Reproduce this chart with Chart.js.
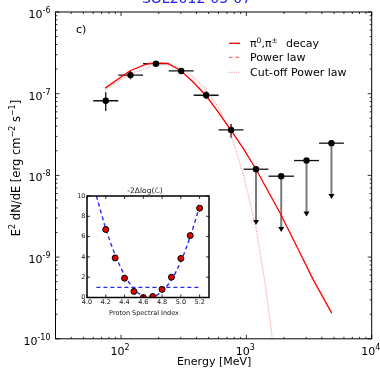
<!DOCTYPE html>
<html><head><meta charset="utf-8">
<script src="https://cdn.jsdelivr.net/npm/chart.js@4/dist/chart.umd.min.js"></script>
<style>
html,body{margin:0;padding:0;background:#fff;overflow:hidden}
#wrap{position:relative;width:380px;height:368px}
#main{position:absolute;left:0;top:0}
#inset{position:absolute;left:66px;top:178px}
</style></head><body>
<div id="wrap">
<canvas id="main" width="380" height="368"></canvas>
<canvas id="inset" width="150" height="142"></canvas>
</div>
<script>
// ---------- data ----------
const titleText = 'SOL2012-03-07';
const panelLabel = 'c)';
const binCentersMeV = [75.5, 119, 190, 302, 478, 755, 1194, 1897, 3020, 4775];
const binLowMeV     = [60, 95, 150, 240, 380, 600, 950, 1500, 2400, 3800];
const binHighMeV    = [95, 150, 240, 380, 600, 950, 1500, 2400, 3800, 6000];
const fluxValues = [8.2e-8, 1.69e-7, 2.33e-7, 1.90e-7, 9.57e-8, 3.6e-8];
const fluxLow    = [6.15e-8, 1.50e-7, 2.20e-7, 1.78e-7, 8.6e-8, 2.88e-8];
const fluxHigh   = [1.04e-7, 1.90e-7, 2.46e-7, 2.02e-7, 1.07e-7, 4.27e-8];
const upperLimitValues = [1.19e-8, 9.78e-9, 1.52e-8, 2.48e-8];
const upperLimitArrowFactor = 0.21;
const pionEnergy = [74.7, 118, 161, 187, 237, 300, 376, 474, 594, 751, 949, 1194, 1857, 2524, 3422, 4797];
const pionFlux   = [1.17e-7, 1.91e-7, 2.31e-7, 2.38e-7, 2.35e-7, 1.91e-7, 1.39e-7, 9.57e-8, 5.98e-8, 3.6e-8, 2.11e-8, 1.19e-8, 3.47e-9, 1.35e-9, 5.27e-10, 2.06e-10];
const powerLawEnergy = [];
const powerLawFlux = [];
const cutoffEnergy = [74.7, 118, 187, 237, 300, 376, 474, 594, 751, 949, 1194, 1409, 1611, 1700];
const cutoffFlux   = [1.11e-7, 1.75e-7, 2.25e-7, 2.25e-7, 2.04e-7, 1.60e-7, 1.14e-7, 6.9e-8, 3.22e-8, 1.01e-8, 2.28e-9, 4.84e-10, 1.0e-10, 4e-11];
const legendLabels = ['decay', 'Power law', 'Cut-off Power law'];
const xTickValues = [1e2, 1e3, 1e4];
const xTickExponents = ['2', '3', '4'];
const yTickValues = [1e-6, 1e-7, 1e-8, 1e-9, 1e-10];
const yTickExponents = ['-6', '-7', '-8', '-9', '-10'];

const insetIndex = [4.2, 4.3, 4.4, 4.5, 4.6, 4.7, 4.8, 4.9, 5.0, 5.1, 5.2];
const insetDeltaLogL = [6.7, 3.9, 1.9, 0.6, 0.0, 0.1, 0.8, 2.0, 3.85, 6.1, 8.8];
const fitIndex = [4.1, 4.2, 4.3, 4.4, 4.5, 4.6, 4.66, 4.7, 4.8, 4.9, 5.0, 5.1, 5.2];
const fitDeltaLogL = [10.0, 6.8, 4.2, 2.2, 0.85, 0.13, 0.0, 0.05, 0.6, 1.75, 3.55, 6.0, 9.0];
const thresholdIndex = [4.1, 5.2];
const thresholdLevel = [1, 1];
const insetXTicks = [4.0, 4.2, 4.4, 4.6, 4.8, 5.0, 5.2];
const insetXTickLabels = ['4.0', '4.2', '4.4', '4.6', '4.8', '5.0', '5.2'];
const insetYTicks = [0, 2, 4, 6, 8, 10];
const insetYTickLabels = ['0', '2', '4', '6', '8', '10'];

// ---------- helpers ----------
const FONT = '"DejaVu Sans", sans-serif';
function pts(xs, ys) { return xs.map((x, i) => ({x: x, y: ys[i]})); }
function supText(ctx, parts, x, y, align) {
  // parts: [text, size, rise]
  let w = 0;
  parts.forEach(p => { ctx.font = p[1] + 'px ' + FONT; w += ctx.measureText(p[0]).width; });
  let cx = align === 'right' ? x - w : (align === 'center' ? x - w / 2 : x);
  ctx.textAlign = 'left'; ctx.textBaseline = 'alphabetic';
  parts.forEach(p => { ctx.font = p[1] + 'px ' + FONT; ctx.fillText(p[0], cx, y - p[2]); cx += ctx.measureText(p[0]).width; });
}

// ---------- main chart ----------
const mainPlugin = {
  id: 'mainDeco',
  beforeDatasetsDraw(chart) {
    const ctx = chart.ctx, xs = chart.scales.x, ys = chart.scales.y;
    ctx.save();
    // error bars of detected points
    ctx.strokeStyle = '#111'; ctx.lineWidth = 1.3;
    fluxValues.forEach((v, i) => {
      const px = xs.getPixelForValue(binCentersMeV[i]), py = ys.getPixelForValue(v);
      ctx.beginPath();
      ctx.moveTo(xs.getPixelForValue(binLowMeV[i]), py); ctx.lineTo(xs.getPixelForValue(binHighMeV[i]), py);
      ctx.moveTo(px, ys.getPixelForValue(fluxLow[i])); ctx.lineTo(px, ys.getPixelForValue(fluxHigh[i]));
      ctx.stroke();
    });
    // upper limits
    upperLimitValues.forEach((v, j) => {
      const i = fluxValues.length + j;
      const px = xs.getPixelForValue(binCentersMeV[i]), py = ys.getPixelForValue(v);
      const tip = ys.getPixelForValue(v * upperLimitArrowFactor);
      ctx.strokeStyle = '#111'; ctx.lineWidth = 1.3;
      ctx.beginPath();
      ctx.moveTo(xs.getPixelForValue(binLowMeV[i]), py); ctx.lineTo(xs.getPixelForValue(binHighMeV[i]), py);
      ctx.stroke();
      ctx.strokeStyle = '#7a7a7a'; ctx.lineWidth = 2;
      ctx.beginPath(); ctx.moveTo(px, py); ctx.lineTo(px, tip - 3); ctx.stroke();
      ctx.fillStyle = '#000';
      ctx.beginPath(); ctx.moveTo(px - 3, tip - 4.5); ctx.lineTo(px + 3, tip - 4.5); ctx.lineTo(px, tip + 0.5); ctx.closePath(); ctx.fill();
    });
    ctx.restore();
  },
  afterDraw(chart) {
    const ctx = chart.ctx, xs = chart.scales.x, ys = chart.scales.y, a = chart.chartArea;
    ctx.save();
    // frame
    ctx.strokeStyle = '#000'; ctx.lineWidth = 1;
    ctx.strokeRect(a.left, a.top, a.right - a.left, a.bottom - a.top);
    // ticks
    ctx.lineWidth = 0.8;
    ctx.beginPath();
    for (let d = 1; d <= 4; d++) {
      for (let m = 1; m <= 9; m++) {
        const v = m * Math.pow(10, d);
        if (v < xs.min || v > xs.max) continue;
        const px = xs.getPixelForValue(v), len = m === 1 ? 4 : 2;
        ctx.moveTo(px, a.bottom); ctx.lineTo(px, a.bottom - len);
        ctx.moveTo(px, a.top); ctx.lineTo(px, a.top + len);
      }
    }
    for (let d = -10; d <= -6; d++) {
      for (let m = 1; m <= 9; m++) {
        const v = m * Math.pow(10, d);
        if (v < ys.min * 0.999 || v > ys.max * 1.001) continue;
        const py = ys.getPixelForValue(v), len = m === 1 ? 4 : 2;
        ctx.moveTo(a.left, py); ctx.lineTo(a.left + len, py);
        ctx.moveTo(a.right, py); ctx.lineTo(a.right - len, py);
      }
    }
    ctx.stroke();
    // tick labels
    ctx.fillStyle = '#000';
    yTickValues.forEach((v, i) => {
      const py = ys.getPixelForValue(v);
      supText(ctx, [['10', 11, 0], [yTickExponents[i], 8, 5]], a.left - 5, py + 6, 'right');
    });
    xTickValues.forEach((v, i) => {
      const px = xs.getPixelForValue(v);
      supText(ctx, [['10', 11, 0], [xTickExponents[i], 8, 5]], px - 1, a.bottom + 16.5, 'center');
    });
    // axis titles
    ctx.font = '11px ' + FONT; ctx.textAlign = 'center';
    ctx.fillText('Energy [MeV]', (a.left + a.right) / 2 + 0.5, 364.5);
    ctx.save();
    ctx.translate(19.5, 168); ctx.rotate(-Math.PI / 2);
    supText(ctx, [['E', 11.5, 0], ['2', 8, 5], [' dN/dE [erg cm', 11.5, 0], ['\u22122', 8, 5], [' s', 11.5, 0], ['\u22121', 8, 5], [']', 11.5, 0]], 0, 0, 'center');
    ctx.restore();
    // title (cut off at top)
    ctx.fillStyle = '#1f1fe6'; ctx.font = '14px ' + FONT; ctx.textAlign = 'center';
    ctx.fillText(titleText, 196.5, 2.8);
    // panel label
    ctx.fillStyle = '#000'; ctx.font = '11px ' + FONT; ctx.textAlign = 'left';
    ctx.fillText(panelLabel, 76, 33);
    // legend
    const lx0 = 229, lx1 = 240, rows = [43.3, 57.3, 72.3];
    ctx.lineWidth = 1.3; ctx.strokeStyle = '#ff0000'; ctx.setLineDash([]);
    ctx.beginPath(); ctx.moveTo(lx0, rows[0]); ctx.lineTo(lx1, rows[0]); ctx.stroke();
    ctx.strokeStyle = 'rgba(255,80,80,0.85)'; ctx.setLineDash([3.5, 3]);
    ctx.beginPath(); ctx.moveTo(lx0, rows[1]); ctx.lineTo(lx1, rows[1]); ctx.stroke();
    ctx.strokeStyle = 'rgba(255,110,110,0.7)'; ctx.setLineDash([1, 1.3]);
    ctx.beginPath(); ctx.moveTo(lx0, rows[2]); ctx.lineTo(lx1, rows[2]); ctx.stroke();
    ctx.setLineDash([]);
    ctx.fillStyle = '#000';
    supText(ctx, [['\u03c0', 11, 0], ['0', 7.5, 4.5], [',', 11, 0], ['\u03c0', 11, 0], ['\u00b1', 7.5, 4.5]], 250, rows[0] + 4, 'left');
    ctx.font = '11px ' + FONT; ctx.textAlign = 'left';
    ctx.fillText(legendLabels[0], 286, rows[0] + 4);
    ctx.fillText(legendLabels[1], 250, rows[1] + 4);
    ctx.fillText(legendLabels[2], 250, rows[2] + 4);
    ctx.restore();
  }
};

new Chart(document.getElementById('main'), {
  type: 'scatter',
  data: { datasets: [
    { label: 'data', data: pts(binCentersMeV.slice(0, fluxValues.length), fluxValues), pointRadius: 3.2, pointBackgroundColor: '#000', pointBorderColor: '#000', pointBorderWidth: 0, showLine: false, order: 0 },
    { label: 'upper limits', data: pts(binCentersMeV.slice(fluxValues.length), upperLimitValues), pointRadius: 3.2, pointBackgroundColor: '#000', pointBorderColor: '#000', pointBorderWidth: 0, showLine: false, order: 1 },
    { label: 'pi decay', data: pts(pionEnergy, pionFlux), showLine: true, borderColor: '#ff0000', borderWidth: 1.3, pointRadius: 0, tension: 0, order: 3 },
    { label: 'Power law', data: pts(powerLawEnergy, powerLawFlux), showLine: true, borderColor: 'rgba(255,80,80,0.85)', borderDash: [3.5, 3], borderWidth: 1.3, pointRadius: 0, order: 4 },
    { label: 'Cut-off Power law', data: pts(cutoffEnergy, cutoffFlux), showLine: true, borderColor: 'rgba(255,110,110,0.75)', borderDash: [1, 1.3], borderWidth: 1.2, pointRadius: 0, tension: 0, order: 5 }
  ]},
  options: {
    responsive: false, animation: false, events: [],
    layout: { padding: { left: 55.5, top: 12, right: 8.3, bottom: 29.2 } },
    scales: {
      x: { type: 'logarithmic', min: 30, max: 1e4, display: false },
      y: { type: 'logarithmic', min: 1e-10, max: 1e-6, display: false }
    },
    plugins: { legend: { display: false }, tooltip: { enabled: false }, title: { display: false } }
  },
  plugins: [mainPlugin]
});

// ---------- inset chart ----------
const insetPlugin = {
  id: 'insetDeco',
  beforeDraw(chart) {
    const ctx = chart.ctx, a = chart.chartArea;
    ctx.save(); ctx.fillStyle = '#fff';
    ctx.fillRect(a.left, a.top, a.right - a.left, a.bottom - a.top);
    ctx.restore();
  },
  afterDraw(chart) {
    const ctx = chart.ctx, xs = chart.scales.x, ys = chart.scales.y, a = chart.chartArea;
    ctx.save();
    ctx.strokeStyle = '#000'; ctx.lineWidth = 1.5;
    ctx.strokeRect(a.left, a.top, a.right - a.left, a.bottom - a.top);
    ctx.lineWidth = 0.8; ctx.beginPath();
    insetXTicks.forEach(v => { const px = xs.getPixelForValue(v);
      ctx.moveTo(px, a.bottom); ctx.lineTo(px, a.bottom - 3); ctx.moveTo(px, a.top); ctx.lineTo(px, a.top + 3); });
    insetYTicks.forEach(v => { const py = ys.getPixelForValue(v);
      ctx.moveTo(a.left, py); ctx.lineTo(a.left + 3, py); ctx.moveTo(a.right, py); ctx.lineTo(a.right - 3, py); });
    ctx.stroke();
    ctx.fillStyle = '#111'; ctx.font = '6.5px ' + FONT;
    ctx.textAlign = 'center'; ctx.textBaseline = 'top';
    insetXTicks.forEach((v, i) => ctx.fillText(insetXTickLabels[i], xs.getPixelForValue(v), a.bottom + 2));
    ctx.textAlign = 'right'; ctx.textBaseline = 'middle';
    insetYTicks.forEach((v, i) => ctx.fillText(insetYTickLabels[i], a.left - 1.5, ys.getPixelForValue(v)));
    ctx.textAlign = 'center'; ctx.textBaseline = 'alphabetic';
    ctx.fillText('Proton Spectral Index', (a.left + a.right) / 2 - 4, a.bottom + 17);
    ctx.font = '7.5px ' + FONT;
    ctx.fillText('-2\u0394log(\u2112)', (a.left + a.right) / 2 - 3, a.top - 3);
    ctx.restore();
  }
};

new Chart(document.getElementById('inset'), {
  type: 'scatter',
  data: { datasets: [
    { label: 'scan', data: pts(insetIndex, insetDeltaLogL), pointRadius: 3, pointBackgroundColor: '#e00000', pointBorderColor: '#000', pointBorderWidth: 1, showLine: false, order: 0 },
    { label: 'fit', data: pts(fitIndex, fitDeltaLogL), showLine: true, borderColor: '#2b2bf0', borderDash: [4, 3], borderWidth: 1.4, pointRadius: 0, cubicInterpolationMode: 'monotone', order: 1 },
    { label: 'threshold', data: pts(thresholdIndex, thresholdLevel), showLine: true, borderColor: '#2b2bf0', borderDash: [4, 3], borderWidth: 1.4, pointRadius: 0, order: 2 }
  ]},
  options: {
    responsive: false, animation: false, events: [],
    layout: { padding: { left: 21, top: 18, right: 7, bottom: 22.5 } },
    scales: {
      x: { type: 'linear', min: 4.0, max: 5.3, display: false },
      y: { type: 'linear', min: 0, max: 10, display: false }
    },
    plugins: { legend: { display: false }, tooltip: { enabled: false } }
  },
  plugins: [insetPlugin]
});
</script>
</body></html>
